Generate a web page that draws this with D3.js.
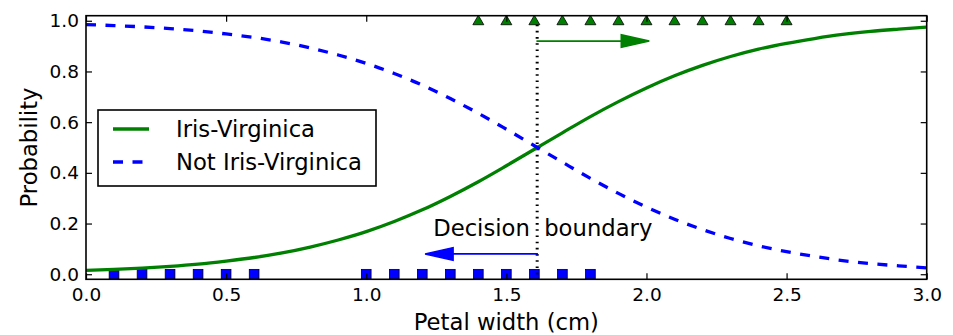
<!DOCTYPE html>
<html>
<head>
<meta charset="utf-8">
<script src="https://cdn.jsdelivr.net/npm/d3@7"></script>
<style>
  body { margin: 0; background: #fff; }
  text { font-family: "DejaVu Sans", sans-serif; fill: #000; }
</style>
</head>
<body>
<svg id="chart" width="953" height="335"></svg>
<script>
// data
var petalWidth = [0.0, 0.1, 0.2, 0.3, 0.4, 0.5, 0.6, 0.7, 0.8, 0.9, 1.0, 1.1, 1.2, 1.3, 1.4, 1.5,
                  1.6, 1.7, 1.8, 1.9, 2.0, 2.1, 2.2, 2.3, 2.4, 2.5, 2.6, 2.7, 2.8, 2.9, 3.0];
var probVirginica = [0.015, 0.019, 0.024, 0.031, 0.040, 0.052, 0.066, 0.084, 0.107, 0.135, 0.168,
                     0.208, 0.254, 0.307, 0.365, 0.428, 0.493, 0.558, 0.622, 0.681, 0.735,
                     0.783, 0.824, 0.859, 0.888, 0.911, 0.930, 0.946, 0.958, 0.967, 0.975];
var probNotVirginica = [0.985, 0.981, 0.976, 0.969, 0.960, 0.948, 0.934, 0.916, 0.893, 0.865, 0.832,
                        0.792, 0.746, 0.693, 0.635, 0.572, 0.507, 0.442, 0.378, 0.319, 0.265,
                        0.217, 0.176, 0.141, 0.112, 0.089, 0.070, 0.054, 0.042, 0.033, 0.025];
var notVirginicaX = [0.1, 0.2, 0.3, 0.4, 0.5, 0.6, 1.0, 1.1, 1.2, 1.3, 1.4, 1.5, 1.6, 1.7, 1.8];
var virginicaX = [1.4, 1.5, 1.6, 1.7, 1.8, 1.9, 2.0, 2.1, 2.2, 2.3, 2.4, 2.5];
var decisionBoundary = 1.61;
var xTicks = [0.0, 0.5, 1.0, 1.5, 2.0, 2.5, 3.0];
var yTicks = [0.0, 0.2, 0.4, 0.6, 0.8, 1.0];
var seriesNames = ["Iris-Virginica", "Not Iris-Virginica"];

var W = 953, H = 335;
var margin = {left: 86, right: 26.3, top: 15.7, bottom: 55.7};
var green = "#008000", blue = "#0000ff";

var svg = d3.select("#chart");

var x = d3.scaleLinear().domain([0, 3]).range([margin.left, W - margin.right]);
var y = d3.scaleLinear().domain([-0.02, 1.02]).range([H - margin.bottom, margin.top]);

svg.append("clipPath").attr("id", "clip")
    .append("rect")
    .attr("x", x(0)).attr("y", y(1.02))
    .attr("width", x(3) - x(0)).attr("height", y(-0.02) - y(1.02));

var plot = svg.append("g").attr("clip-path", "url(#clip)");

// markers: squares at y=0, triangles at y=1
plot.selectAll("rect.neg")
    .data(notVirginicaX)
    .enter().append("rect")
    .attr("class", "neg")
    .attr("x", function(d) { return x(d) - 4.85; })
    .attr("y", y(0) - 4.85)
    .attr("width", 9.7)
    .attr("height", 9.7)
    .attr("fill", blue)
    .attr("stroke", "#000")
    .attr("stroke-width", 0.8);

var tri = d3.symbol().type(d3.symbolTriangle).size(52);
plot.selectAll("path.pos")
    .data(virginicaX)
    .enter().append("path")
    .attr("class", "pos")
    .attr("d", tri)
    .attr("transform", function(d) { return "translate(" + x(d) + "," + (y(1) + 0.8) + ")"; })
    .attr("fill", green)
    .attr("stroke", "#000")
    .attr("stroke-width", 0.8);

// decision boundary
plot.append("line")
    .attr("x1", x(decisionBoundary)).attr("x2", x(decisionBoundary))
    .attr("y1", y(0)).attr("y2", y(1))
    .attr("stroke", "#000")
    .attr("stroke-width", 3)
    .attr("stroke-dasharray", "1.6,4.6");

// probability curves
var lineV = d3.line()
    .x(function(d, i) { return x(petalWidth[i]); })
    .y(function(d) { return y(d); })
    .curve(d3.curveMonotoneX);

plot.append("path")
    .attr("d", lineV(probVirginica))
    .attr("fill", "none")
    .attr("stroke", green)
    .attr("stroke-width", 3.3);

plot.append("path")
    .attr("d", lineV(probNotVirginica))
    .attr("fill", "none")
    .attr("stroke", blue)
    .attr("stroke-width", 3.3)
    .attr("stroke-dasharray", "10,9.5");

// arrows from the decision boundary
function drawArrow(x0, yv, dx, color) {
    var hl = 0.1, hw = 0.025, sw = 0.0005;
    var dir = dx < 0 ? -1 : 1;
    var xb = x0 + dx, xt = xb + dir * hl;
    var pts = [[x0, yv + sw], [xb, yv + sw], [xb, yv + hw], [xt, yv],
               [xb, yv - hw], [xb, yv - sw], [x0, yv - sw]];
    plot.append("path")
        .attr("d", "M" + pts.map(function(p) { return x(p[0]) + "," + y(p[1]); }).join("L") + "Z")
        .attr("fill", color)
        .attr("stroke", color)
        .attr("stroke-width", 1.5)
        .attr("stroke-linejoin", "miter");
}
drawArrow(decisionBoundary, 0.08, -0.3, blue);
drawArrow(decisionBoundary, 0.92, 0.3, green);

svg.append("text")
    .attr("x", x(decisionBoundary + 0.02))
    .attr("y", y(0.15))
    .attr("text-anchor", "middle")
    .attr("font-size", 22.7)
    .attr("xml:space", "preserve")
    .style("white-space", "pre")
    .text("Decision  boundary");

// frame and inward ticks on all four sides
svg.append("rect")
    .attr("x", x(0)).attr("y", y(1.02))
    .attr("width", x(3) - x(0)).attr("height", y(-0.02) - y(1.02))
    .attr("fill", "none")
    .attr("stroke", "#000")
    .attr("stroke-width", 1.6);

var tl = 6;
svg.append("g")
    .attr("transform", "translate(0," + y(-0.02) + ")")
    .call(d3.axisBottom(x).tickValues(xTicks).tickSizeInner(-tl).tickSizeOuter(0)
        .tickPadding(9).tickFormat(d3.format(".1f")))
    .call(styleAxis);
svg.append("g")
    .attr("transform", "translate(0," + y(1.02) + ")")
    .call(d3.axisTop(x).tickValues(xTicks).tickSizeInner(-tl).tickSizeOuter(0).tickFormat(""))
    .call(styleAxis);
svg.append("g")
    .attr("transform", "translate(" + x(0) + ",0)")
    .call(d3.axisLeft(y).tickValues(yTicks).tickSizeInner(-tl).tickSizeOuter(0)
        .tickPadding(7).tickFormat(d3.format(".1f")))
    .call(styleAxis);
svg.append("g")
    .attr("transform", "translate(" + x(3) + ",0)")
    .call(d3.axisRight(y).tickValues(yTicks).tickSizeInner(-tl).tickSizeOuter(0).tickFormat(""))
    .call(styleAxis);

function styleAxis(g) {
    g.select(".domain").remove();
    g.selectAll(".tick line").attr("stroke", "#000").attr("stroke-width", 1.2);
    g.selectAll(".tick text")
        .attr("font-family", "DejaVu Sans")
        .attr("font-size", 18.5)
        .attr("fill", "#000");
}

// axis labels
svg.append("text")
    .attr("x", (x(0) + x(3)) / 2)
    .attr("y", 330)
    .attr("text-anchor", "middle")
    .attr("font-size", 22.7)
    .text("Petal width (cm)");

svg.append("text")
    .attr("transform", "translate(36.5," + ((y(1.02) + y(-0.02)) / 2) + ") rotate(-90)")
    .attr("text-anchor", "middle")
    .attr("font-size", 22.7)
    .text("Probability");

// legend
var legend = svg.append("g");
legend.append("rect")
    .attr("x", 98).attr("y", 110)
    .attr("width", 278).attr("height", 76)
    .attr("fill", "#fff")
    .attr("stroke", "#000")
    .attr("stroke-width", 1.6);

var item = legend.selectAll("g.item")
    .data(seriesNames)
    .enter().append("g")
    .attr("class", "item")
    .attr("transform", function(d, i) { return "translate(0," + (129 + i * 33) + ")"; });

item.append("line")
    .attr("x1", 113).attr("x2", 149)
    .attr("y1", 0).attr("y2", 0)
    .attr("stroke", function(d, i) { return i === 0 ? green : blue; })
    .attr("stroke-width", 3.3)
    .attr("stroke-dasharray", function(d, i) { return i === 0 ? null : "10,9.5"; });

item.append("text")
    .attr("x", 176)
    .attr("y", 8.3)
    .attr("font-size", 22.7)
    .text(function(d) { return d; });
</script>
</body>
</html>
